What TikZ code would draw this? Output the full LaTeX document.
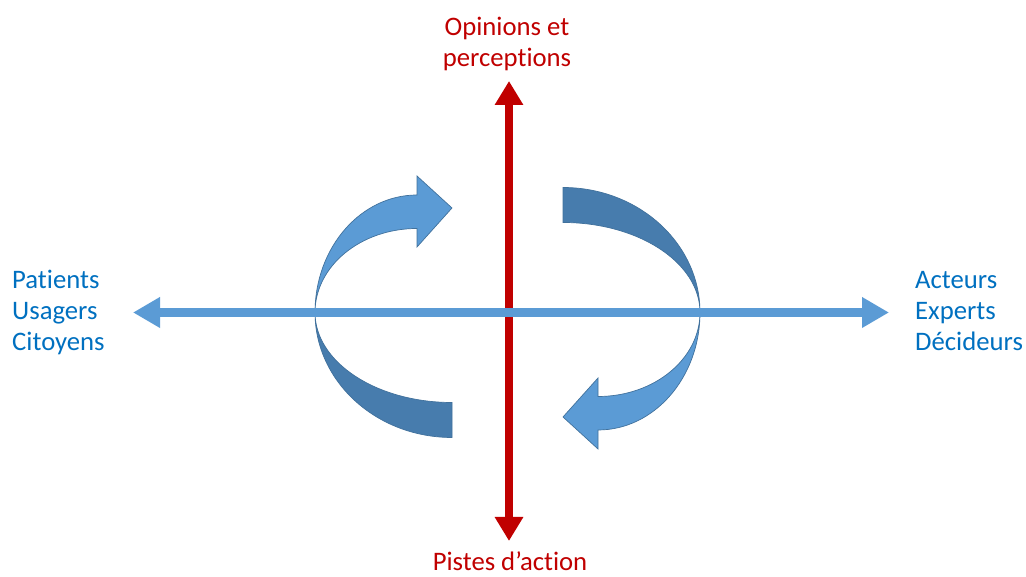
\documentclass[tikz,border=0pt]{standalone}
\usepackage{fontspec}
\setmainfont{Carlito}[Ligatures={NoCommon}]
\usetikzlibrary{arrows.meta}

\definecolor{axisblue}{HTML}{5B9BD5}
\definecolor{ribbondark}{HTML}{477CAD}
\definecolor{ribbonedge}{HTML}{41719C}
\definecolor{axisred}{HTML}{C00000}
\definecolor{labelblue}{HTML}{0070C0}
\definecolor{labelred}{HTML}{C00000}

\begin{document}
\begin{tikzpicture}[x=1pt,y=1pt,
  lbl/.style={inner sep=0pt, font=\fontsize{26.7}{31}\selectfont},
  ribbonfront/.style={fill=axisblue, draw=ribbonedge, line width=0.7pt, line join=miter},
  ribbonback/.style={fill=ribbondark, draw=ribbonedge, line width=0.7pt},
  haxis/.style={draw=axisblue, line width=9pt,
    {Triangle[length=27pt,width=29pt]}-{Triangle[length=27pt,width=29pt]}},
  vaxis/.style={draw=axisred, line width=8pt,
    {Triangle[length=24pt,width=27pt]}-{Triangle[length=24pt,width=27pt]}}
]
\useasboundingbox (0,0) rectangle (1026,577);

% axis end points
\coordinate (W) at (133,264.5);
\coordinate (E) at (889,264.5);
\coordinate (N) at (509,496);
\coordinate (S) at (509,36);

% left ribbon: back (dark) half, then front half with arrow head
\path[ribbonback] (452,139.5)
  arc[start angle=270, end angle=180, x radius=137pt, y radius=125pt]
  arc[start angle=180, end angle=270, x radius=137pt, y radius=90pt] -- cycle;
\path[ribbonfront] (315,264.5)
  arc[start angle=180, end angle=90, x radius=102pt, y radius=117.5pt]
  -- (417,401) -- (452,369) -- (417,330) -- (417,348.5)
  arc[start angle=90, end angle=180, x radius=102pt, y radius=84pt] -- cycle;

% right ribbon
\path[ribbonback] (563,389.5)
  arc[start angle=90, end angle=0, x radius=137pt, y radius=125pt]
  arc[start angle=0, end angle=90, x radius=137pt, y radius=90pt] -- cycle;
\path[ribbonfront] (700,264.5)
  arc[start angle=0, end angle=-90, x radius=102pt, y radius=117.5pt]
  -- (598,128) -- (563,160) -- (598,199) -- (598,180.5)
  arc[start angle=-90, end angle=0, x radius=102pt, y radius=84pt] -- cycle;

% axes
\draw[vaxis] (S) -- (N);
\draw[haxis] (W) -- (E);

% labels (base anchor = baseline of the last line)
\node[lbl, text=labelblue, align=left, anchor=base west] (left) at (12,226)
  {Patients\\Usagers\\Citoyens};
\node[lbl, text=labelblue, align=left, anchor=base west] (right) at (915,226)
  {Acteurs\\Experts\\Décideurs};
\node[lbl, text=labelred, align=center, anchor=base] (top) at (507,510)
  {Opinions et\\perceptions};
\node[lbl, text=labelred, anchor=base] (bottom) at (510,6)
  {Pistes d’action};
\end{tikzpicture}
\end{document}
